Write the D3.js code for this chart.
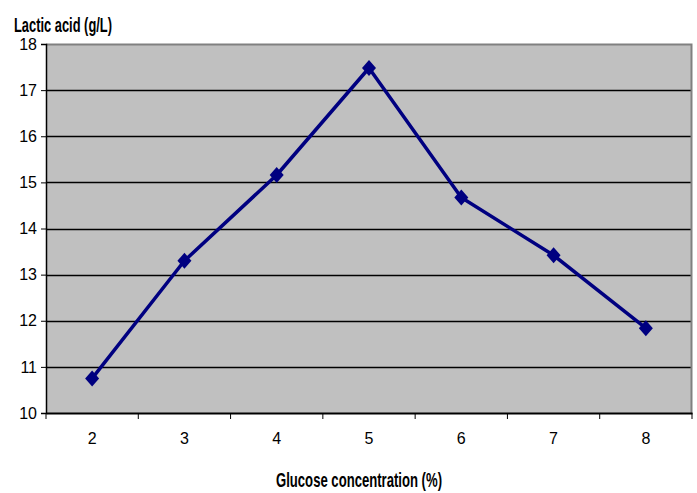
<!DOCTYPE html>
<html>
<head>
<meta charset="utf-8">
<script src="https://cdn.jsdelivr.net/npm/d3@7"></script>
<style>
  body { margin: 0; background: #fff; }
</style>
</head>
<body>
<div id="chart"></div>
<script>
const glucose = ["2", "3", "4", "5", "6", "7", "8"];
const lactic = [10.75, 13.3, 15.16, 17.48, 14.67, 13.42, 11.84];
const yTicks = [10, 11, 12, 13, 14, 15, 16, 17, 18];

const width = 697;
const height = 493;
const margin = {top: 44, right: 5, bottom: 80, left: 46};

const svg = d3.select("#chart")
  .append("svg")
  .attr("width", width)
  .attr("height", height);

const x = d3.scaleBand()
  .domain(glucose)
  .range([margin.left, width - margin.right]);

const y = d3.scaleLinear()
  .domain([10, 18])
  .range([height - margin.bottom, margin.top]);

// plot background
svg.append("rect")
  .attr("x", margin.left)
  .attr("y", margin.top)
  .attr("width", width - margin.right - margin.left)
  .attr("height", height - margin.bottom - margin.top)
  .attr("fill", "#c0c0c0");

// gridlines
svg.append("g")
  .selectAll("line")
  .data(yTicks.slice(1, -1))
  .join("line")
  .attr("x1", margin.left)
  .attr("x2", width - margin.right)
  .attr("y1", d => Math.round(y(d)) + 0.5)
  .attr("y2", d => Math.round(y(d)) + 0.5)
  .attr("stroke", "#000")
  .attr("stroke-width", 1.5);

// top + right border
svg.append("path")
  .attr("d", `M${margin.left},${margin.top + 0.5}H${width - margin.right - 0.5}V${height - margin.bottom}`)
  .attr("fill", "none")
  .attr("stroke", "#808080")
  .attr("stroke-width", 2);

// y axis
const yAxis = svg.append("g")
  .attr("transform", `translate(${margin.left},0)`)
  .call(d3.axisLeft(y).tickValues(yTicks).tickSize(5).tickPadding(4).tickFormat(d3.format("d")));
yAxis.select(".domain").attr("stroke", "#000").attr("stroke-width", 1.5);
yAxis.selectAll("line").attr("stroke", "#000");
yAxis.selectAll("text")
  .attr("font-family", "'Liberation Sans', Arial, sans-serif")
  .attr("font-size", 16)
  .attr("fill", "#000");

// x axis
const xAxis = svg.append("g")
  .attr("transform", `translate(0,${height - margin.bottom})`)
  .call(d3.axisBottom(x).tickSize(0).tickPadding(20));
xAxis.select(".domain").attr("stroke", "#000").attr("stroke-width", 2);
xAxis.selectAll("text")
  .attr("font-family", "'Liberation Sans', Arial, sans-serif")
  .attr("font-size", 16)
  .attr("fill", "#000");

// tick marks between categories
const edges = glucose.map(d => x(d)).concat([x(glucose[glucose.length - 1]) + x.bandwidth()]);
svg.append("g")
  .selectAll("line")
  .data(edges)
  .join("line")
  .attr("x1", d => d)
  .attr("x2", d => d)
  .attr("y1", height - margin.bottom)
  .attr("y2", height - margin.bottom + 6)
  .attr("stroke", "#000");

// line
const line = d3.line()
  .x((d, i) => x(glucose[i]) + x.bandwidth() / 2)
  .y(d => y(d));

svg.append("path")
  .datum(lactic)
  .attr("d", line)
  .attr("fill", "none")
  .attr("stroke", "#000080")
  .attr("stroke-width", 3.5)
  .attr("stroke-linejoin", "round");

// diamond markers
svg.append("g")
  .selectAll("path")
  .data(lactic)
  .join("path")
  .attr("transform", (d, i) => `translate(${x(glucose[i]) + x.bandwidth() / 2},${y(d)})`)
  .attr("d", "M0,-8L7,0L0,8L-7,0Z")
  .attr("fill", "#000080");

// titles (condensed look)
svg.append("text")
  .attr("x", 14)
  .attr("y", 32)
  .attr("font-family", "'Liberation Sans', Arial, sans-serif")
  .attr("font-size", 21)
  .attr("font-weight", "bold")
  .attr("fill", "#000")
  .attr("textLength", 98)
  .attr("lengthAdjust", "spacingAndGlyphs")
  .text("Lactic acid (g/L)");

svg.append("text")
  .attr("x", 276)
  .attr("y", 487)
  .attr("font-family", "'Liberation Sans', Arial, sans-serif")
  .attr("font-size", 21)
  .attr("font-weight", "bold")
  .attr("fill", "#000")
  .attr("textLength", 166)
  .attr("lengthAdjust", "spacingAndGlyphs")
  .text("Glucose concentration (%)");
</script>
</body>
</html>
